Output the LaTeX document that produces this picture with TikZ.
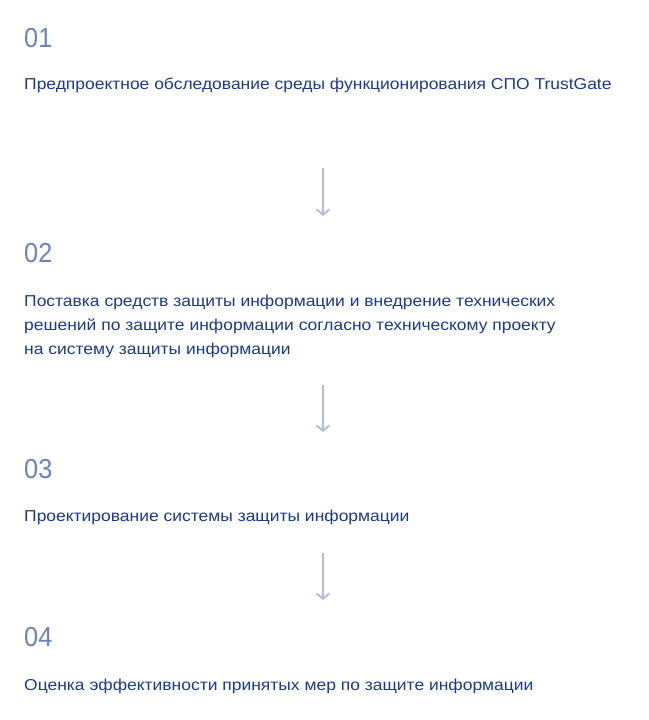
\documentclass[tikz,border=0pt]{standalone}
\usepackage{fontspec}
\setmainfont{Liberation Sans}
\newfontfamily\widefont[FakeStretch=1.105]{Liberation Sans}
\newfontfamily\numfont[FakeStretch=0.92]{Liberation Sans}
\usetikzlibrary{arrows.meta}
\definecolor{navy}{HTML}{1B3A8A}
\definecolor{numc}{HTML}{6A82B8}
\definecolor{arrc}{HTML}{AEBCD8}
\tikzset{
  num/.style={anchor=base west, inner sep=0pt, text=numc, font=\numfont\fontsize{27.5}{30}\selectfont},
  desc/.style={anchor=base west, inner sep=0pt, text=navy, font=\widefont\fontsize{15.8}{24}\selectfont},
  flow/.style={draw=arrc, line width=1.8pt, -{Straight Barb[length=5.5pt,width=13pt]}}
}
\begin{document}
\begin{tikzpicture}[x=1pt,y=-1pt]
\useasboundingbox (0,0) rectangle (648,720);
\node[num] (n1) at (24,47) {01};
\node[desc] (t1) at (24,89) {Предпроектное обследование среды функционирования СПО TrustGate};
\node[num] (n2) at (24,262) {02};
\node[desc] (t2a) at (24,306) {Поставка средств защиты информации и внедрение технических};
\node[desc] (t2b) at (24,330) {решений по защите информации согласно техническому проекту};
\node[desc] (t2c) at (24,354) {на систему защиты информации};
\node[num] (n3) at (24,478) {03};
\node[desc] (t3) at (24,521) {Проектирование системы защиты информации};
\node[num] (n4) at (24,646) {04};
\node[desc] (t4) at (24,690) {Оценка эффективности принятых мер по защите информации};
\coordinate (a1s) at (323,168); \coordinate (a1e) at (323,216);
\coordinate (a2s) at (323,385); \coordinate (a2e) at (323,432);
\coordinate (a3s) at (323,553); \coordinate (a3e) at (323,600);
\draw[flow] (a1s) -- (a1e);
\draw[flow] (a2s) -- (a2e);
\draw[flow] (a3s) -- (a3e);
\end{tikzpicture}
\end{document}
